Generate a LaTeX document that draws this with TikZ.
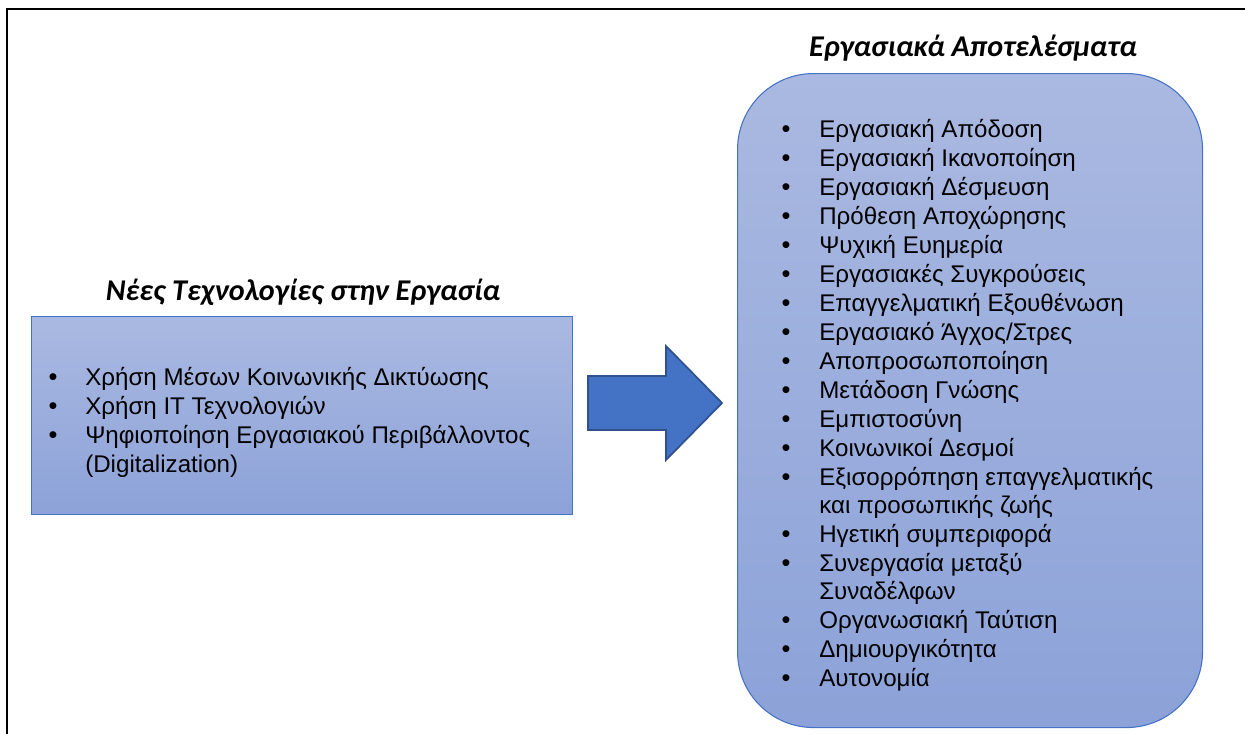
\documentclass[tikz,border=0pt]{standalone}
\usepackage{fontspec}
\newfontfamily\arialf{Liberation Sans}
\newfontfamily\calib{Carlito}
\definecolor{accent}{HTML}{4472C4}
\definecolor{accentdark}{HTML}{2F528F}
\definecolor{gradtop}{HTML}{AAB9E1}
\definecolor{gradbot}{HTML}{8CA2D8}
\begin{document}
\begin{tikzpicture}[x=0.75pt,y=-0.75pt,
  panel/.style={draw=accent, line width=0.8pt, top color=gradtop, bottom color=gradbot, inner sep=0pt, anchor=north west},
  heading/.style={font=\calib\bfseries\itshape\fontsize{22.6pt}{26pt}\selectfont, anchor=base, inner sep=0pt},
  itemtxt/.style={font=\arialf\fontsize{18.1pt}{21pt}\selectfont, anchor=base west, inner sep=0pt},
  bul/.style={font=\arialf\fontsize{19pt}{21pt}\selectfont, anchor=base, inner sep=0pt}]
\useasboundingbox (0,0) rectangle (1245,733);
\draw[line width=2pt, line cap=rect] (7,740) -- (7,9) -- (1250,9);

% left panel
\node[heading] (lefttitle) at (303,300) {Νέες Τεχνολογίες στην Εργασία};
\node[panel, minimum width=405.75pt, minimum height=148.5pt] (leftbox) at (31,316) {};
\node[bul] (lb1) at (53,385) {•};
\node[itemtxt] (lt1) at (85,385) {Χρήση Μέσων Κοινωνικής Δικτύωσης};
\node[bul] (lb2) at (53,414) {•};
\node[itemtxt] (lt2) at (85,414) {Χρήση IT Τεχνολογιών};
\node[bul] (lb3) at (53,443) {•};
\node[itemtxt] (lt3) at (85,443) {Ψηφιοποίηση Εργασιακού Περιβάλλοντος};
\node[itemtxt] (lt3b) at (85,472) {(Digitalization)};

% arrow
\draw[fill=accent, draw=accentdark, line width=1.3pt, line join=miter]
  (588,376) -- (666,376) -- (666,346) -- (722,403) -- (666,460) -- (666,430) -- (588,430) -- cycle;

% right panel
\node[heading] (righttitle) at (973,56) {Εργασιακά Αποτελέσματα};
\node[panel, rounded corners=57pt, minimum width=348.75pt, minimum height=490.5pt] (rightbox) at (737,73) {};
\foreach \y/\t [count=\i] in {
  137/{Εργασιακή Απόδοση},
  166/{Εργασιακή Ικανοποίηση},
  195/{Εργασιακή Δέσμευση},
  224/{Πρόθεση Αποχώρησης},
  253/{Ψυχική Ευημερία},
  282/{Εργασιακές Συγκρούσεις},
  311/{Επαγγελματική Εξουθένωση},
  340/{Εργασιακό Άγχος/Στρες},
  369/{Αποπροσωποποίηση},
  398/{Μετάδοση Γνώσης},
  427/{Εμπιστοσύνη},
  456/{Κοινωνικοί Δεσμοί},
  485/{Εξισορρόπηση επαγγελματικής},
  542/{Ηγετική συμπεριφορά},
  571/{Συνεργασία μεταξύ},
  628/{Οργανωσιακή Ταύτιση},
  657/{Δημιουργικότητα},
  686/{Αυτονομία}} {
  \node[bul] (rb\i) at (786,\y) {•};
  \node[itemtxt] (rt\i) at (819,\y) {\t};
}
\node[itemtxt] (rt13b) at (819,513) {και προσωπικής ζωής};
\node[itemtxt] (rt15b) at (819,599) {Συναδέλφων};
\end{tikzpicture}
\end{document}
